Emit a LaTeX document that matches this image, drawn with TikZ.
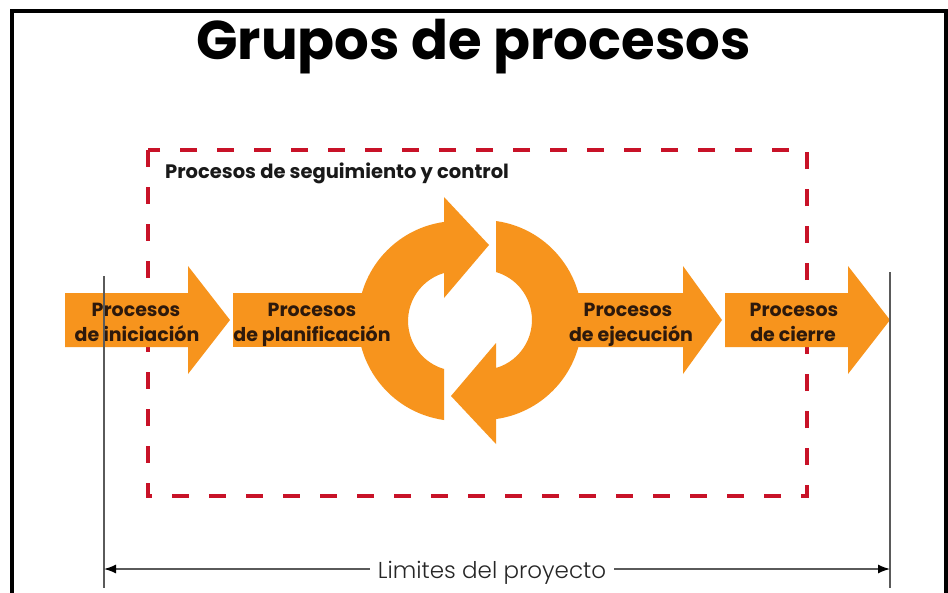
\documentclass[tikz,border=0pt]{standalone}
\usepackage{fontspec}
\setmainfont{Poppins}
\newfontfamily\lightfont{Poppins Light}
\usetikzlibrary{arrows.meta}
\definecolor{orng}{RGB}{247,148,29}
\definecolor{dred}{RGB}{200,18,40}
\definecolor{txtbrown}{RGB}{45,25,12}
\definecolor{lgray}{RGB}{90,90,90}
\begin{document}
\begin{tikzpicture}[x=1pt,y=-1pt,
  lbl/.style={font=\bfseries\fontsize{19}{22}\selectfont, text=txtbrown, anchor=base, inner sep=0pt},
  orfill/.style={fill=orng},
  dim/.style={draw=lgray, line width=1.4pt, >={Latex[length=12pt,width=9pt,color=black]}},
]
\useasboundingbox (0,0) rectangle (948,592);
\clip (0,0) rectangle (948,592);
\fill[white] (0,0) rectangle (948,592);
% outer frame
\draw[line width=4.5pt] (12,11) rectangle (946,620);
% title
\node[font=\bfseries\fontsize{54.5}{60}\selectfont, anchor=base, inner sep=0pt] (title) at (473.5,59) {Grupos de procesos};
% dashed control box
\draw[dred, line width=4pt, dash pattern=on 17pt off 20pt] (148,150) rectangle (807,496);
\node[font=\bfseries\fontsize{19.5}{22}\selectfont, text=black!90, anchor=base west, inner sep=0pt] (ctrl) at (165,178) {Procesos de seguimiento y control};
% orange arrows
\fill[orfill] (65,293) -- (188,293) -- (188,266) -- (230,320) -- (188,374) -- (188,347) -- (65,347) -- cycle;
\fill[orfill] (233,293) rectangle (385,347);
\fill[orfill] (550,293) -- (683,293) -- (683,266) -- (722,320) -- (683,374) -- (683,347) -- (550,347) -- cycle;
\fill[orfill] (725,293) -- (848,293) -- (848,266) -- (890,320) -- (848,374) -- (848,347) -- (725,347) -- cycle;
% cycle arrows
\fill[orfill] (444,420) arc[start angle=98, end angle=262, radius=100] -- (444,197) -- (489,245) -- (444,298) -- (444,273) arc[start angle=253.7, end angle=106.3, radius=50] -- cycle;
\fill[orfill, rotate around={180:(470,320.5)}] (444,420) arc[start angle=98, end angle=262, radius=100] -- (444,197) -- (489,245) -- (444,298) -- (444,273) arc[start angle=253.7, end angle=106.3, radius=50] -- cycle;
% labels
\node[lbl] (i1) at (136,316) {Procesos};
\node[lbl] (i2) at (137,341) {de iniciación};
\node[lbl] (p1) at (312,316) {Procesos};
\node[lbl] (p2) at (312,341) {de planificación};
\node[lbl] (e1) at (628,316) {Procesos};
\node[lbl] (e2) at (631,341) {de ejecución};
\node[lbl] (c1) at (794,316) {Procesos};
\node[lbl] (c2) at (793,341) {de cierre};
% project limits
\coordinate (vlt) at (104,276);
\coordinate (vlb) at (104,588);
\coordinate (vrt) at (890,272);
\coordinate (vrb) at (890,588);
\coordinate (vl) at (104,569);
\coordinate (vr) at (890,569);
\draw[dim] (vlt) -- (vlb);
\draw[dim] (vrt) -- (vrb);
\node[font=\lightfont\fontsize{23}{26}\selectfont, text=black!85, anchor=base, inner xsep=8pt, inner ysep=0pt] (lim) at (492,578) {Limites del proyecto};
\draw[dim, <-] (vl) -- (vl -| lim.west);
\draw[dim, ->] (vr -| lim.east) -- (vr);
\end{tikzpicture}
\end{document}
